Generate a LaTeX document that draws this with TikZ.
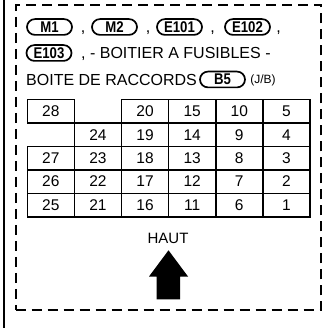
\documentclass[tikz,border=0pt]{standalone}
\usepackage{fontspec}
\setmainfont{Liberation Sans}
\newfontfamily\condfont[FakeStretch=0.85]{Liberation Sans}
\begin{document}
\begin{tikzpicture}[x=1pt,y=-1pt,
  tag/.style={draw, line width=1.7pt, rounded corners=7.9pt, minimum width=45pt,
    minimum height=15.8pt, inner sep=0pt, font=\condfont\bfseries\fontsize{15.5}{15.5}\selectfont},
  txt/.style={inner sep=0pt, font=\fontsize{16}{16}\selectfont},
  smalltxt/.style={inner sep=0pt, font=\fontsize{12}{12}\selectfont},
  cellbox/.style={draw, line width=1.6pt, minimum width=47.1pt, minimum height=23.45pt,
    inner sep=0pt, font=\fontsize{15.5}{15.5}\selectfont},
  frame/.style={line width=2pt},
  dashframe/.style={line width=2pt, dash pattern=on 10pt off 6pt}]
\useasboundingbox (0,0) rectangle (327,328);
% outer solid line
\coordinate (ot) at (4,0);
\coordinate (ob) at (4,328);
\draw[frame] (ot) -- (ob);
% dashed frame
\coordinate (dbl) at (15.5,309.5);
\coordinate (dbr) at (321.3,309.5);
\coordinate (dtr) at (321.3,5);
\coordinate (dtl) at (15.5,5);
\draw[dashframe] (dbl) -- (dbr) -- (dtr) -- (dtl) -- cycle;
% line 1
\node[tag] (m1) at (49.5,27) {M1};
\node[txt, anchor=base] (c1) at (83,32.7) {,};
\node[tag] (m2) at (114.5,27) {M2};
\node[txt, anchor=base] (c2) at (148,32.7) {,};
\node[tag] (e101) at (179.5,27) {E101};
\node[txt, anchor=base] (c3) at (212.5,32.7) {,};
\node[tag] (e102) at (247.5,27) {E102};
\node[txt, anchor=base] (c4) at (278.5,32.7) {,};
% line 2
\node[tag] (e103) at (49,53) {E103};
\node[txt, anchor=base west] (l2) at (81,58.7) {, - BOITIER A FUSIBLES -};
% line 3
\node[txt, anchor=base west] (l3) at (26,85.2) {BOITE DE RACCORDS};
\node[tag] (b5) at (222.5,79.5) {B5};
\node[smalltxt] (jb) at (263,80) {(J/B)};
% grid
\foreach \r/\c/\v in {0/0/28,0/2/20,0/3/15,0/4/10,0/5/5,
  1/1/24,1/2/19,1/3/14,1/4/9,1/5/4,
  2/0/27,2/1/23,2/2/18,2/3/13,2/4/8,2/5/3,
  3/0/26,3/1/22,3/2/17,3/3/12,3/4/7,3/5/2,
  4/0/25,4/1/21,4/2/16,4/3/11,4/4/6,4/5/1}
  \node[cellbox] (cell-\r-\c) at ({27.3+47.1*(\c+0.5)},{99.5+23.45*(\r+0.5)}) {\v};
% HAUT and arrow
\node[txt, font=\fontsize{15}{15}\selectfont] (haut) at (168,238.3) {HAUT};
\fill (168.5,250.3) -- (188,276.5) -- (180.2,276.5) -- (180.2,299.3) -- (156.7,299.3)
  -- (156.7,276.5) -- (149,276.5) -- cycle;
\end{tikzpicture}
\end{document}
